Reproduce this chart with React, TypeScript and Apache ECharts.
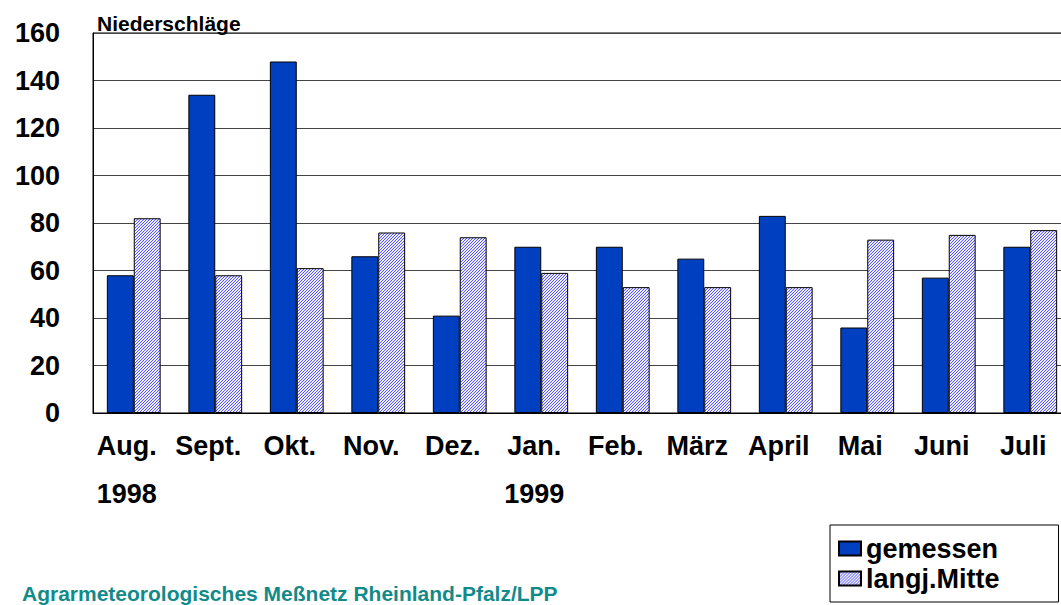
import React, { useEffect, useRef } from "react";
import * as echarts from "echarts";

const months = ["Aug.", "Sept.", "Okt.", "Nov.", "Dez.", "Jan.", "Feb.", "März", "April", "Mai", "Juni", "Juli"];
const years = ["1998", "", "", "", "", "1999", "", "", "", "", "", ""];
const gemessen = [58, 134, 148, 66, 41, 70, 70, 65, 83, 36, 57, 70];
const langjMitte = [82, 58, 61, 76, 74, 59, 53, 53, 53, 73, 75, 77];
const yTicks = { min: 0, max: 160, interval: 20 };

const FONT = 'Arial, "Liberation Sans", sans-serif';

function makeHatch(): HTMLCanvasElement {
  const c = document.createElement("canvas");
  c.width = 3;
  c.height = 3;
  const ctx = c.getContext("2d")!;
  ctx.fillStyle = "#eeeeff";
  ctx.fillRect(0, 0, 3, 3);
  ctx.fillStyle = "#5555ff";
  for (let i = 0; i < 3; i++) {
    ctx.fillRect(i, 2 - i, 1, 1);
  }
  return c;
}

export default function App() {
  const ref = useRef<HTMLDivElement>(null);
  useEffect(() => {
    if (!ref.current) return;
    const chart = echarts.init(ref.current, null, { renderer: "svg" });
    const hatch = makeHatch();
    chart.setOption({
      animation: false,
      backgroundColor: "#ffffff",
      title: {
        text: "Niederschläge",
        left: 92,
        top: 8,
        textStyle: { fontFamily: FONT, fontSize: 21, fontWeight: "bold", color: "#000" },
      },
      grid: {
        left: 93,
        top: 33,
        right: 9,
        bottom: 192,
        show: true,
        borderColor: "#000",
        borderWidth: 1,
        backgroundColor: "transparent",
      },
      legend: {
        orient: "vertical",
        left: 830,
        top: 525,
        borderColor: "#000",
        borderWidth: 1,
        padding: [10, 59, 10, 8],
        itemGap: 3,
        itemWidth: 22,
        itemHeight: 14,
        icon: "rect",
        textStyle: { fontFamily: FONT, fontSize: 27, fontWeight: "bold", color: "#000" },
        data: ["gemessen", "langj.Mitte"],
      },
      graphic: [
        {
          type: "text",
          left: 22,
          top: 583,
          style: {
            text: "Agrarmeteorologisches Meßnetz Rheinland-Pfalz/LPP",
            fill: "#138a8a",
            font: `bold 21px ${FONT}`,
          },
        },
      ],
      xAxis: {
        type: "category",
        data: months,
        axisTick: { show: false },
        axisLine: { lineStyle: { color: "#000", width: 1 } },
        axisLabel: {
          margin: 21,
          interval: 0,
          fontFamily: FONT,
          fontSize: 27,
          fontWeight: "bold",
          color: "#000",
          lineHeight: 24,
          padding: [0, 14, 0, 0],
          formatter: (v: string, i: number) => (years[i] ? `${v}\n\n${years[i]}` : v),
        },
      },
      yAxis: {
        type: "value",
        min: yTicks.min,
        max: yTicks.max,
        interval: yTicks.interval,
        axisLine: { show: true, lineStyle: { color: "#000", width: 1 } },
        axisTick: { show: false },
        splitLine: { lineStyle: { color: "#444", width: 1 } },
        axisLabel: {
          margin: 33,
          fontFamily: FONT,
          fontSize: 27,
          fontWeight: "bold",
          color: "#000",
        },
      },
      series: [
        {
          name: "gemessen",
          type: "bar",
          data: gemessen,
          barGap: "0%",
          barCategoryGap: "34%",
          itemStyle: { color: "#0040c0", borderColor: "#000", borderWidth: 1 },
        },
        {
          name: "langj.Mitte",
          type: "bar",
          data: langjMitte,
          barGap: "0%",
          barCategoryGap: "34%",
          itemStyle: {
            color: { image: hatch, repeat: "repeat", imageWidth: 3, imageHeight: 3 } as any,
            borderColor: "#000",
            borderWidth: 1,
          },
        },
      ],
    });
    return () => chart.dispose();
  }, []);
  return (
    <div style={{ position: "absolute", left: 0, top: 0, width: 1061, height: 605, overflow: "hidden" }}>
      <div ref={ref} style={{ width: 1080, height: 605 }} />
    </div>
  );
}
